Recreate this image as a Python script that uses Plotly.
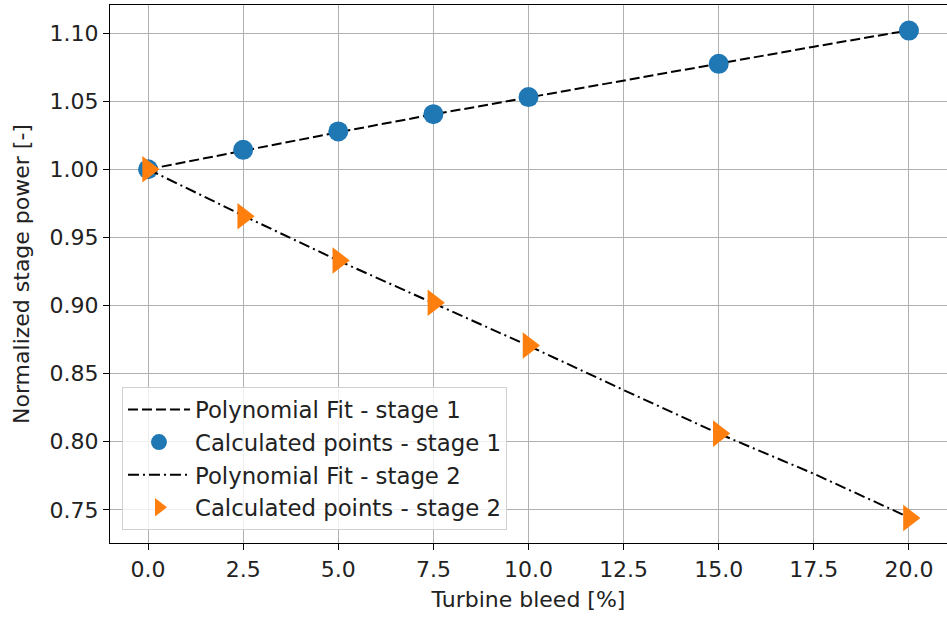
import plotly.graph_objects as go

# Data
bleed_points = [0.0, 2.5, 5.0, 7.5, 10.0, 15.0, 20.0]
stage1_points = [1.000, 1.0143, 1.0278, 1.0405, 1.0530, 1.0774, 1.1018]
stage2_points = [1.000, 0.9655, 0.9331, 0.9020, 0.8706, 0.8060, 0.7440]

bleed_fit = [0.0, 2.5, 5.0, 7.5, 10.0, 12.5, 15.0, 17.5, 20.0]
stage1_fit = [1.000, 1.0137, 1.0272, 1.0403, 1.0528, 1.0651, 1.0773, 1.0900, 1.1020]
stage2_fit = [1.000, 0.9660, 0.9330, 0.9015, 0.8705, 0.8380, 0.8060, 0.7765, 0.7445]

x_ticks = [0, 2.5, 5, 7.5, 10, 12.5, 15, 17.5, 20]
x_tick_labels = ["0.0", "2.5", "5.0", "7.5", "10.0", "12.5", "15.0", "17.5", "20.0"]
y_ticks = [0.75, 0.80, 0.85, 0.90, 0.95, 1.00, 1.05, 1.10]
y_tick_labels = ["0.75", "0.80", "0.85", "0.90", "0.95", "1.00", "1.05", "1.10"]

BLUE = "#1f77b4"
ORANGE = "#ff7f0e"
FONT = "DejaVu Sans"
FS = 22

fig = go.Figure()
fig.add_trace(go.Scatter(x=bleed_fit, y=stage1_fit, mode="lines",
                         name="Polynomial Fit - stage 1", legendgroup="a",
                         line=dict(color="black", width=2, dash="10px,4px")))
fig.add_trace(go.Scatter(x=bleed_points, y=stage1_points, mode="markers",
                         name="Calculated points - stage 1", legendgroup="b",
                         marker=dict(color=BLUE, size=20, symbol="circle", line=dict(width=0))))
fig.add_trace(go.Scatter(x=bleed_fit, y=stage2_fit, mode="lines",
                         name="Polynomial Fit - stage 2", legendgroup="c",
                         line=dict(color="black", width=2, dash="11px,4px,2px,4px")))
fig.add_trace(go.Scatter(x=bleed_points, y=stage2_points, mode="markers",
                         name="Calculated points - stage 2", legendgroup="d",
                         marker=dict(color=ORANGE, size=23, symbol="triangle-right", line=dict(width=0))))

axis_common = dict(showgrid=True, gridcolor="#b0b0b0", gridwidth=1.2,
                   showline=True, linecolor="black", linewidth=1.2, mirror=True,
                   ticks="outside", ticklen=6, tickwidth=1.2, tickcolor="black",
                   zeroline=False, automargin=False,
                   tickfont=dict(family=FONT, size=FS, color="#222"),
                   title_font=dict(family=FONT, size=FS, color="#222"))

fig.update_layout(
    width=947, height=617,
    margin=dict(l=110, r=0, t=5, b=74),
    paper_bgcolor="white", plot_bgcolor="white",
    font=dict(family=FONT, size=FS, color="#222"),
    xaxis=dict(range=[-1, 21], tickvals=x_ticks, ticktext=x_tick_labels,
               title=dict(text="Turbine bleed [%]", standoff=11), **axis_common),
    yaxis=dict(range=[0.7257, 1.1206], tickvals=y_ticks, ticktext=y_tick_labels,
               title=dict(text="Normalized stage power [-]", standoff=13), **axis_common),
    legend=dict(x=0.0143, y=0.024, xanchor="left", yanchor="bottom",
                bgcolor="rgba(255,255,255,0.8)", bordercolor="#d0d0d0", borderwidth=1,
                font=dict(family=FONT, size=22.8, color="#222"),
                traceorder="grouped", tracegroupgap=0, itemwidth=62),
    showlegend=True,
)

fig.write_html("out.html", config={"displayModeBar": False},
               post_script="document.body.style.margin='0';")
